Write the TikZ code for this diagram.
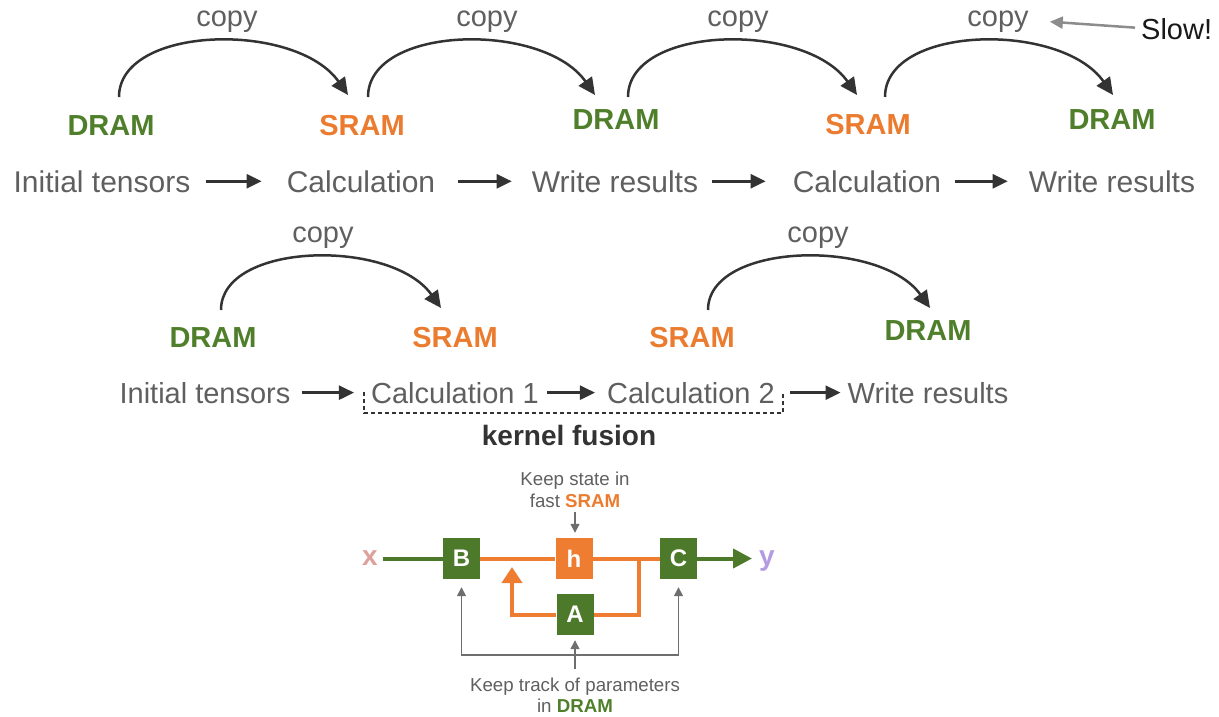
\documentclass[tikz,border=0pt]{standalone}
\usepackage{fontspec}
\setmainfont{Liberation Sans}
\usetikzlibrary{arrows.meta,calc}

\definecolor{txtgray}{RGB}{95,95,95}
\definecolor{arrowdark}{RGB}{51,51,51}
\definecolor{dramgreen}{RGB}{79,127,43}
\definecolor{sramorange}{RGB}{235,124,47}
\definecolor{boxgreen}{RGB}{76,122,42}
\definecolor{horange}{RGB}{238,125,49}
\definecolor{xpink}{RGB}{221,160,155}
\definecolor{ypurple}{RGB}{180,155,225}
\definecolor{paramgray}{RGB}{110,110,110}
\definecolor{slowgray}{RGB}{140,140,140}

\begin{document}
\begin{tikzpicture}[x=1pt,y=-1pt,
  lbl/.style={anchor=base,inner sep=0pt,text=txtgray},
  copylbl/.style={lbl,font=\fontsize{29}{34}\selectfont},
  flowa/.style={lbl,font=\fontsize{30}{36}\selectfont},
  flowb/.style={lbl,font=\fontsize{29}{34}\selectfont},
  memd/.style={anchor=base,inner sep=0pt,text=dramgreen,font=\bfseries\fontsize{29}{34}\selectfont},
  mems/.style={memd,text=sramorange},
  arcarrow/.style={draw=arrowdark,line width=2.5pt,-{Triangle[length=17pt,width=16pt]}},
  flowarrow/.style={draw=arrowdark,line width=2.5pt,-{Triangle[length=15pt,width=14pt]}},
  blk/.style={minimum width=37pt,minimum height=41pt,inner sep=0pt,text=white,font=\bfseries\fontsize{24}{28}\selectfont},
  gline/.style={draw=boxgreen,line width=4pt},
  oline/.style={draw=horange,line width=4pt},
  parrow/.style={draw=paramgray,line width=1.5pt,-{Triangle[length=9pt,width=9pt]}},
  small/.style={anchor=base,inner sep=0pt,text=txtgray,font=\fontsize{18.7}{22}\selectfont}
]
\useasboundingbox (0,0) rectangle (1219,716);

% ---------- unfused pipeline ----------
\node[copylbl] (cp1) at (227,26) {copy};
\node[copylbl] (cp2) at (487,26) {copy};
\node[copylbl] (cp3) at (738,26) {copy};
\node[copylbl] (cp4) at (998,26) {copy};

\node[anchor=base west,inner sep=0pt,text=black!90,font=\fontsize{29}{34}\selectfont] (slow) at (1141,39) {Slow!};
\draw[draw=slowgray,line width=2.5pt,-{Triangle[length=13pt,width=12pt]}]
  ($(slow.west)+(-6,-1)$) -- ($(cp4.east)+(21,0.5)$);

\node[memd] (m1) at (111,135) {DRAM};
\node[mems] (m2) at (362,135) {SRAM};
\node[memd] (m3) at (616,129) {DRAM};
\node[mems] (m4) at (868,134) {SRAM};
\node[memd] (m5) at (1112,129) {DRAM};

\coordinate (a1s) at (119,97);  \coordinate (a1e) at (348,95);
\coordinate (a2s) at (368,97);  \coordinate (a2e) at (595,95);
\coordinate (a3s) at (628,97);  \coordinate (a3e) at (857,95);
\coordinate (a4s) at (885,97);  \coordinate (a4e) at (1113,95);
\foreach \s/\e in {a1s/a1e,a2s/a2e,a3s/a3e,a4s/a4e}
  \draw[arcarrow] (\s) .. controls +(0,-72) and +(-52,-74) .. (\e);

\node[flowa] (t1) at (102,192) {Initial tensors};
\node[flowa] (t2) at (361,192) {Calculation};
\node[flowa] (t3) at (615,192) {Write results};
\node[flowa] (t4) at (867,192) {Calculation};
\node[flowa] (t5) at (1112,192) {Write results};

\draw[flowarrow,shorten <=15pt,shorten >=25pt] (t1) -- (t2);
\draw[flowarrow,shorten <=23pt,shorten >=20pt] (t2) -- (t3);
\draw[flowarrow,shorten <=14pt,shorten >=27pt] (t3) -- (t4);
\draw[flowarrow,shorten <=14pt,shorten >=21pt] (t4) -- (t5);

% ---------- fused pipeline ----------
\node[copylbl] (cp5) at (323,242) {copy};
\node[copylbl] (cp6) at (818,242) {copy};

\node[memd] (n1) at (213,347) {DRAM};
\node[mems] (n2) at (455,347) {SRAM};
\node[mems] (n3) at (692,347) {SRAM};
\node[memd] (n4) at (928,340) {DRAM};

\coordinate (b1s) at (221,310); \coordinate (b1e) at (441,308);
\coordinate (b2s) at (708,310); \coordinate (b2e) at (930,308);
\foreach \s/\e in {b1s/b1e,b2s/b2e}
  \draw[arcarrow] (\s) .. controls +(0,-68) and +(-50,-70) .. (\e);

\node[flowb] (u1) at (205,403) {Initial tensors};
\node[flowb] (u2) at (455,403) {Calculation 1};
\node[flowb] (u3) at (691,403) {Calculation 2};
\node[flowb] (u4) at (928,403) {Write results};

\draw[flowarrow,shorten <=11pt,shorten >=17pt] (u1) -- (u2);
\draw[flowarrow,shorten <=8pt,shorten >=12pt] (u2) -- (u3);
\draw[flowarrow,shorten <=15pt,shorten >=7pt] (u3) -- (u4);

\coordinate (k1) at (364,392); \coordinate (k2) at (783,392);
\draw[draw=arrowdark,line width=2pt,dash pattern=on 4pt off 3pt]
  (k1) -- (364,413) -- (783,413) -- (k2);
\node[anchor=base,inner sep=0pt,text=arrowdark,font=\bfseries\fontsize{28}{33}\selectfont] (kf) at (569,445) {kernel fusion};

% ---------- selective scan block ----------
\node[small] (ks1) at (575,485) {Keep state in};
\node[small] (ks2) at (575,507) {fast \textbf{\color{sramorange}SRAM}};

\node[blk,fill=boxgreen] (B) at (461.5,558.5) {B};
\node[blk,fill=horange]  (h) at (574,558.5) {h};
\node[blk,fill=boxgreen] (C) at (678.5,558.5) {C};
\node[blk,fill=boxgreen] (A) at (575,614.5) {A};

\node[anchor=base,inner sep=0pt,text=xpink,font=\bfseries\fontsize{28}{33}\selectfont] (xin) at (370,565) {x};
\node[anchor=base,inner sep=0pt,text=ypurple,font=\bfseries\fontsize{28}{33}\selectfont] (yout) at (767,565) {y};

\draw[gline] ($(B.west -| xin.east)+(5,0)$) -- (B.west);
\draw[oline] (B.east) -- (h.west);
\draw[oline] (h.east) -- (C.west);
\coordinate (jn) at (639,558.5);
\draw[oline] (jn) |- (A.east);
\coordinate (fb) at (512,567);
\draw[oline,line join=miter,-{Triangle[length=16pt,width=20pt]}] (A.west) -| (fb);
\draw[gline,-{Triangle[length=19pt,width=19pt]}] (C.east) -- ($(C.east -| yout.west)+(-7,0)$);

\draw[parrow,shorten <=5pt,shorten >=5pt] (ks2.south) -- (ks2.south |- h.north);

\node[small] (kp1) at (575,691) {Keep track of parameters};
\node[small] (kp2) at (575,712) {in \textbf{\color{dramgreen}DRAM}};

\draw[parrow,shorten <=8pt,shorten >=5pt] (kp1.north) -- (kp1.north |- A.south);
\draw[draw=paramgray,line width=1.5pt,{Triangle[length=9pt,width=9pt]}-{Triangle[length=9pt,width=9pt]}]
  ($(B.south)+(0,8)$) -- ($(B.south)+(0,76)$) -| ($(C.south)+(0,8)$);
\end{tikzpicture}
\end{document}
